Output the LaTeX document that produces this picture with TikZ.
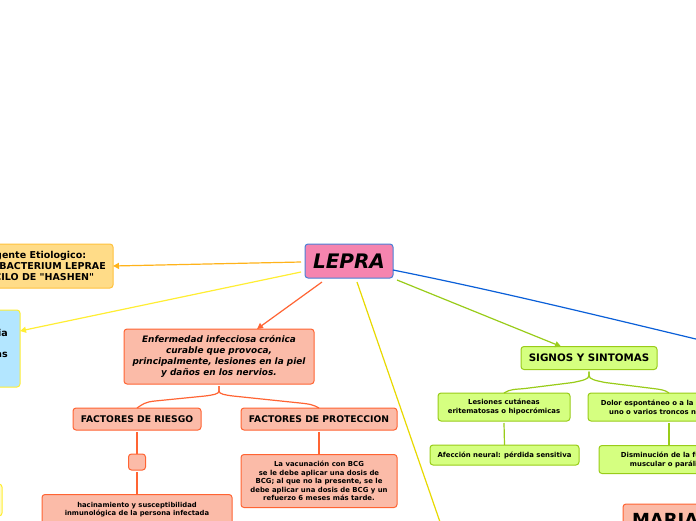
\documentclass[tikz,border=0pt]{standalone}
\usepackage{fontspec}
\setmainfont{DejaVu Sans}
\newfontfamily\plainfam{DejaVu Sans}
\usetikzlibrary{arrows.meta}
\definecolor{cpink}{HTML}{F584AF}
\definecolor{cpinkb}{HTML}{4A80D6}
\definecolor{corf}{HTML}{FFDC88}
\definecolor{corb}{HTML}{FFC23D}
\definecolor{corl}{HTML}{FFB31A}
\definecolor{cbl}{HTML}{B3E6FF}
\definecolor{cyel}{HTML}{FFEE33}
\definecolor{cred}{HTML}{FBBBA8}
\definecolor{credb}{HTML}{FF6433}
\definecolor{cgr}{HTML}{D5FF80}
\definecolor{cgrb}{HTML}{99CC19}
\definecolor{cblue}{HTML}{0A5FD8}
\definecolor{cgold}{HTML}{E8D900}
\tikzset{
 box/.style={rectangle,rounded corners=3pt,line width=1pt,align=center,inner sep=0pt,outer sep=0pt,font=\bfseries},
 rbox/.style={box,draw=credb,fill=cred},
 gbox/.style={box,draw=cgrb,fill=cgr},
 conn/.style={line width=1.2pt},
 redline/.style={conn,credb},
 grnline/.style={conn,cgrb},
 tip/.style={-{Triangle[length=6pt,width=6pt]}},
}
\begin{document}
\begin{tikzpicture}[x=1pt,y=-1pt]
\useasboundingbox (0,0) rectangle (696,520);
\clip (0,0) rectangle (696,520);
\fill[white] (0,0) rectangle (696,520);
\node[box,draw=cpinkb,fill=cpink,minimum width=88pt,minimum height=34pt,font=\fontsize{20}{24}\selectfont\bfseries\itshape] (lepra) at (349,261) {LEPRA};
\node[box,draw=corb,fill=corf,minimum width=152pt,minimum height=44pt,font=\plainfam\fontsize{9.5}{11}\selectfont\bfseries] (agente) at (37,266) {Agente Etiologico:\\MYCOBACTERIUM LEPRAE\\BACILO DE "HASHEN"};
\node[box,draw=cyel,fill=cbl,minimum width=60pt,minimum height=77pt] (blue) at (-10,348.5) {};
\node[anchor=east,inner sep=0pt,font=\fontsize{9.5}{11}\selectfont\bfseries] (bluea) at (8,333) {ia};
\node[anchor=east,inner sep=0pt,font=\fontsize{9.5}{11}\selectfont\bfseries] (blueb) at (8,355) {as};
\node[box,draw=cyel,fill=cyel!25,minimum width=40pt,minimum height=32pt] (yel) at (-18,500) {};
\node[rbox,minimum width=190pt,minimum height=55pt,font=\fontsize{8.9}{11}\selectfont\bfseries\itshape] (enf) at (219,356.5) {Enfermedad infecciosa crónica\\curable que provoca,\\principalmente, lesiones en la piel\\y daños en los nervios.};
\node[rbox,minimum width=128pt,minimum height=22pt,font=\fontsize{9.2}{10}\selectfont\bfseries] (fr) at (137,419) {FACTORES DE RIESGO};
\node[rbox,minimum width=156pt,minimum height=22pt,font=\fontsize{9.2}{10}\selectfont\bfseries] (fp) at (319,419) {FACTORES DE PROTECCION};
\node[rbox,minimum width=17pt,minimum height=16pt] (small) at (137,462) {};
\node[rbox,minimum width=190pt,minimum height=46pt,anchor=north,font=\fontsize{6.8}{8}\selectfont\bfseries,text depth=18pt] (hac) at (137,494.5) {hacinamiento y susceptibilidad\\inmunológica de la persona infectada};
\node[rbox,minimum width=156pt,minimum height=53pt,font=\fontsize{6.9}{8.4}\selectfont\bfseries] (vac) at (319,481) {La vacunación con BCG\\se le debe aplicar una dosis de\\BCG; al que no la presente, se le\\debe aplicar una dosis de BCG y un\\refuerzo 6 meses más tarde.};
\node[gbox,minimum width=136pt,minimum height=23pt,font=\fontsize{10.3}{12}\selectfont\bfseries] (sig) at (589,358) {SIGNOS Y SINTOMAS};
\node[gbox,minimum width=132pt,minimum height=28pt,font=\fontsize{6.9}{9}\selectfont\bfseries] (les) at (504,407) {Lesiones cutáneas\\eritematosas o hipocrómicas};
\node[gbox,minimum width=162pt,minimum height=28pt,font=\fontsize{6.9}{9}\selectfont\bfseries] (dol) at (669,407) {Dolor espontáneo o a la presión en\\uno o varios troncos nerviosos};
\node[gbox,minimum width=149pt,minimum height=20pt,font=\fontsize{6.9}{9}\selectfont\bfseries] (afe) at (504.5,455) {Afección neural: pérdida sensitiva};
\node[gbox,minimum width=140pt,minimum height=28pt,font=\fontsize{6.9}{9}\selectfont\bfseries] (dis) at (669,459.5) {Disminución de la fuerza\\muscular o parálisis};
\node[rbox,anchor=north west,text width=120pt,align=left,inner xsep=9pt,inner ysep=9pt,font=\fontsize{18}{20}\selectfont\bfseries] (mar) at (623,504) {MARIA A};
\coordinate (yend) at (440,522);
\coordinate (bend) at (700,340);
% connectors
\draw[tip,conn,corl] ([xshift=-4pt,yshift=-1pt]lepra.west) -- (agente.east);
\draw[tip,conn,cyel] ([xshift=-4pt,yshift=-11pt]lepra.west) -- ([yshift=17.5pt]blue.east);
\draw[tip,conn,credb] ([xshift=-27pt,yshift=-4pt]lepra.south) -- ([xshift=38pt]enf.north);
\draw[conn,cgold] ([xshift=8pt,yshift=-4pt]lepra.south) -- (yend);
\draw[tip,conn,cgrb] ([xshift=4pt,yshift=-2pt]lepra.south east) -- ([xshift=-28pt]sig.north);
\draw[conn,cblue] ([yshift=-9pt]lepra.east) .. controls +(100,20) and +(-100,-24) .. (bend);
\draw[redline] ([yshift=-2pt]enf.south) -- ++(0,5) .. controls +(0,3) and +(8,-1) .. ++(-14,5) -- ++(-50,5) .. controls +(-10,1) and +(6,-4) .. (fr.north);
\draw[redline] ([yshift=-2pt]enf.south) -- ++(0,5) .. controls +(0,3) and +(-8,-1) .. ++(14,5) -- ++(67,7) .. controls +(10,1) and +(-5,-3) .. (fp.north);
\draw[redline] ([yshift=-2pt]fr.south) -- (small.north);
\draw[redline] ([yshift=-2pt]small.south) -- (hac.north);
\draw[redline] ([yshift=-2pt]fp.south) -- (vac.north);
\draw[grnline] ([yshift=-2pt]sig.south) -- ++(0,4) .. controls +(0,4) and +(9,-2) .. ++(-16,7) -- ++(-48,6) .. controls +(-10,1) and +(6,-4) .. (les.north);
\draw[grnline] ([yshift=-2pt]sig.south) -- ++(0,4) .. controls +(0,4) and +(-9,-2) .. ++(16,7) -- ++(48,6) .. controls +(8,1) and +(-4,-3) .. (dol.north);
\draw[grnline] ([yshift=-2pt]les.south) -- (afe.north);
\draw[grnline] ([yshift=-2pt]dol.south) -- (dis.north);
\end{tikzpicture}
\end{document}
